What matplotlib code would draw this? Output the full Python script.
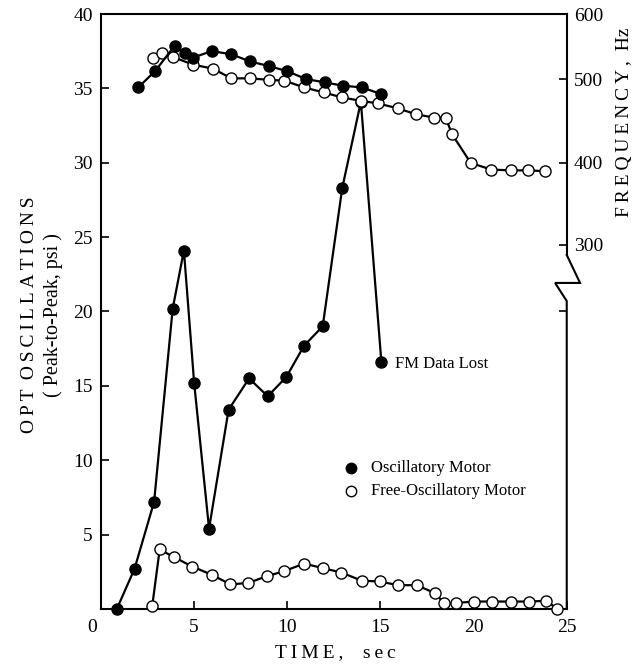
import matplotlib
matplotlib.use("Agg")
import matplotlib.pyplot as plt
import matplotlib.transforms as mtransforms
import numpy as np

plt.rcParams["font.family"] = ["Liberation Serif", "DejaVu Serif"]

# pressure oscillations, psi
osc_t = [0.85, 1.8, 2.85, 3.85, 4.45, 5.0, 5.8, 6.85, 7.95, 8.95, 9.95, 10.9, 11.9, 12.95, 13.95, 15.05]
osc_psi = [0.0, 2.7, 7.2, 20.2, 24.1, 15.2, 5.4, 13.4, 15.5, 14.3, 15.6, 17.7, 19.0, 28.3, 34.1, 16.6]

free_t = [2.75, 3.15, 3.9, 4.9, 5.95, 6.95, 7.9, 8.9, 9.85, 10.9, 11.9, 12.9, 14.0, 14.95, 15.95,
          16.95, 17.95, 18.4, 19.05, 20.0, 21.0, 22.0, 23.0, 23.9, 24.5]
free_psi = [0.2, 4.0, 3.5, 2.85, 2.3, 1.65, 1.75, 2.2, 2.55, 3.05, 2.75, 2.45, 1.9, 1.85, 1.6,
            1.6, 1.05, 0.4, 0.4, 0.5, 0.5, 0.5, 0.5, 0.55, 0.0]

# frequency, Hz
osc_f_t = [2.0, 2.9, 3.95, 4.5, 4.95, 5.95, 7.0, 8.0, 9.0, 10.0, 11.0, 12.0, 13.0, 14.0, 15.05]
osc_hz = [490, 512, 551, 540, 533, 543, 538, 527, 520, 512, 500, 496, 492, 490, 482]

free_f_t = [2.8, 3.3, 3.85, 4.95, 6.0, 7.0, 8.0, 9.0, 9.85, 10.9, 11.95, 12.95, 13.95, 14.85,
            15.95, 16.9, 17.9, 18.5, 18.85, 19.85, 20.95, 22.0, 22.9, 23.85]
free_hz = [532, 540, 534, 522, 516, 501, 501, 499, 498, 490, 484, 478, 474, 471,
           465, 458, 454, 454, 434, 400, 392, 391, 391, 390]

x_ticks = [0, 5, 10, 15, 20, 25]
psi_ticks = [5, 10, 15, 20, 25, 30, 35, 40]
hz_ticks = [220, 300, 400, 500, 600]
hz_labels = ["", "300", "400", "500", "600"]

# the frequency axis of the original is not evenly spaced
hz_knots = [-144, 300, 400, 500, 600]
hz_pos = [0, 364, 446, 530, 595]


def hz_fwd(v):
    return np.interp(v, hz_knots, hz_pos)


def hz_inv(v):
    return np.interp(v, hz_pos, hz_knots)


def spaced(s):
    return "\u2009".join(s)


fig = plt.figure(figsize=(6.38, 6.67), dpi=100)
ax = fig.add_axes([0.1583, 0.087, 0.730, 0.892])
ax2 = ax.twinx()
ax2.set_yscale("function", functions=(hz_fwd, hz_inv))

line_kw = dict(color="black", lw=1.6, markersize=8, markeredgewidth=1.0, markeredgecolor="black")

ax2.plot(free_f_t, free_hz, marker="o", markerfacecolor="white", zorder=3, **line_kw)
ax2.plot(osc_f_t, osc_hz, marker="o", markerfacecolor="black", zorder=4, **line_kw)
ax.plot(osc_t, osc_psi, marker="o", markerfacecolor="black", zorder=3, clip_on=False, **line_kw)
ax.plot(free_t, free_psi, marker="o", markerfacecolor="white", zorder=4, clip_on=False, **line_kw)

ax.set_xlim(0, 25)
ax.set_ylim(0, 40)
ax2.set_ylim(-144, 600)

ax.set_xticks(x_ticks)
ax.set_yticks(psi_ticks)
ax2.set_yticks(hz_ticks)
ax2.set_yticklabels(hz_labels)
ax2.yaxis.set_minor_locator(matplotlib.ticker.NullLocator())

ax.tick_params(direction="in", length=6, width=1.2, labelsize=14, pad=6)
ax.tick_params(axis="x", pad=7)
ax2.tick_params(direction="in", length=6, width=1.2, labelsize=14, pad=5)

# the origin label sits a bit to the left in the original
lbl0 = ax.get_xticklabels()[0]
lbl0.set_transform(lbl0.get_transform() + mtransforms.ScaledTranslation(-0.09, 0, fig.dpi_scale_trans))

for s in ["left", "bottom", "top"]:
    ax.spines[s].set_linewidth(1.5)
ax.spines["right"].set_visible(False)
for s in ax2.spines.values():
    s.set_visible(False)

# right spine with break
tr = ax.transAxes
ax.plot([1, 1], [1, 0.595], color="black", lw=1.5, transform=tr, clip_on=False)
ax.plot([1, 1.0286, 0.975, 1, 1], [0.595, 0.548, 0.548, 0.5176, 0], color="black", lw=1.5,
        transform=tr, clip_on=False, solid_joinstyle="miter")

ax.text(15.8, 16.5, "FM Data Lost", fontsize=12, va="center", ha="left")

ax.plot([13.4], [9.45], marker="o", color="black", markersize=7.5, linestyle="none")
ax.plot([13.4], [7.95], marker="o", markerfacecolor="white", markeredgecolor="black", markersize=7.5, linestyle="none")
ax.text(14.5, 9.45, "Oscillatory Motor", fontsize=12, va="center", ha="left")
ax.text(14.5, 7.95, "Free-Oscillatory Motor", fontsize=12, va="center", ha="left")

fig.text(30 / 638, 1 - 315 / 667, spaced("OPT") + "  " + spaced("OSCILLATIONS"), rotation=90,
         fontsize=14, ha="center", va="center")
fig.text(53 / 638, 1 - 315 / 667, "( Peak-to-Peak, psi )", rotation=90, fontsize=14.5, ha="center", va="center")
fig.text(625 / 638, 1 - 122 / 667, spaced("FREQUENCY,") + "  Hz", rotation=90, fontsize=14,
         ha="center", va="center")
fig.text(335 / 638, 1 - 653 / 667, spaced("TIME,") + "    " + spaced("sec"), fontsize=14, ha="center", va="center")

fig.savefig("out.png", dpi=100)
